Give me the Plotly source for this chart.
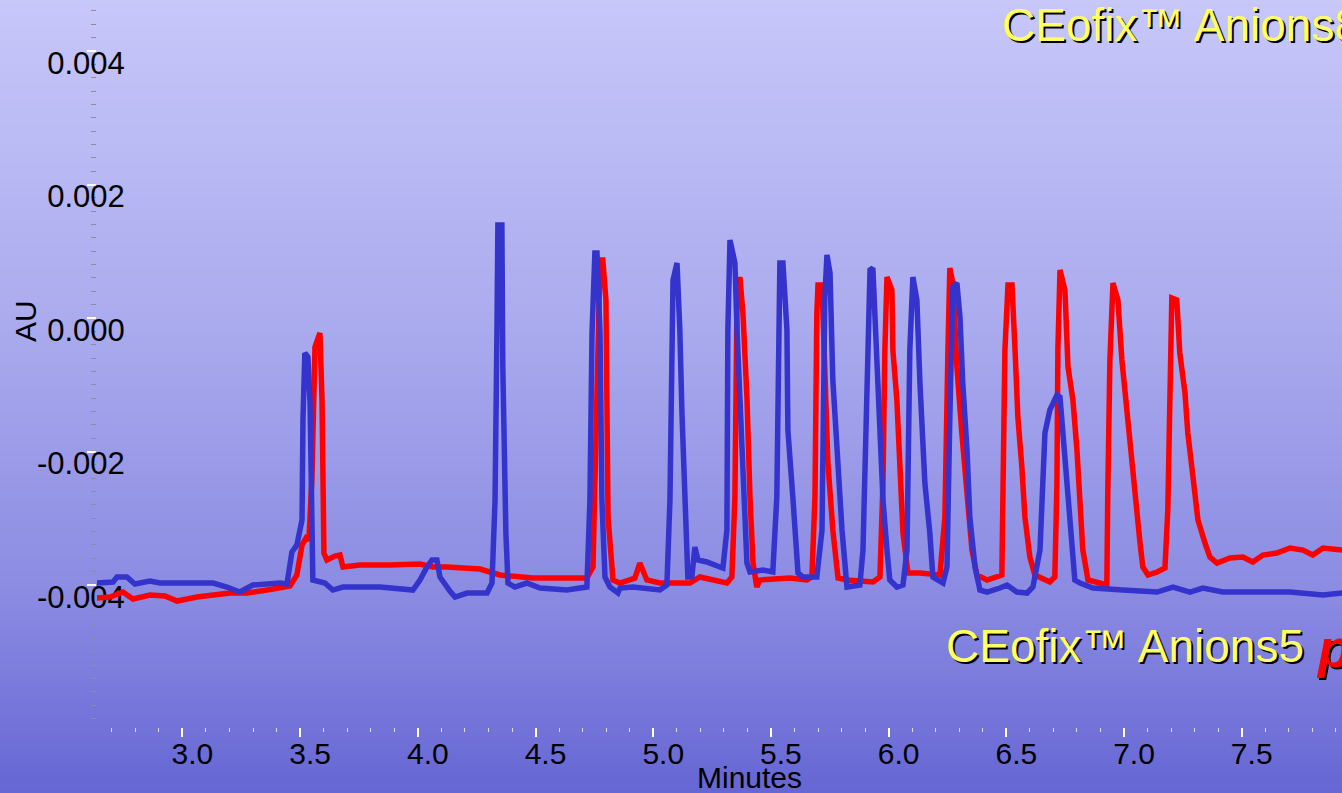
import plotly.graph_objects as go

# ---------------- data (minutes, mAU) ----------------
red_t = [2.628, 2.692, 2.747, 2.790, 2.862, 2.926, 2.977, 3.062, 3.202, 3.274,
         3.359, 3.427, 3.457, 3.486, 3.508, 3.525, 3.537, 3.550, 3.563, 3.584,
         3.593, 3.601, 3.614, 3.648, 3.669, 3.682, 3.754, 3.881, 4.009, 4.064,
         4.124, 4.264, 4.349, 4.489, 4.604, 4.718, 4.744, 4.761, 4.774, 4.786,
         4.799, 4.808, 4.829, 4.859, 4.922, 4.943, 4.973, 5.028, 5.156, 5.198,
         5.313, 5.334, 5.347, 5.356, 5.368, 5.381, 5.398, 5.411, 5.424, 5.440,
         5.453, 5.581, 5.653, 5.674, 5.687, 5.695, 5.700, 5.717, 5.729, 5.742,
         5.763, 5.785, 5.823, 5.933, 5.963, 5.976, 5.984, 5.993, 6.014, 6.018,
         6.035, 6.048, 6.061, 6.082, 6.133, 6.218, 6.239, 6.252, 6.260, 6.273,
         6.290, 6.311, 6.333, 6.354, 6.375, 6.418, 6.481, 6.486, 6.494, 6.507,
         6.524, 6.537, 6.549, 6.566, 6.579, 6.600, 6.621, 6.685, 6.706, 6.715,
         6.719, 6.728, 6.749, 6.762, 6.783, 6.800, 6.813, 6.825, 6.847, 6.898,
         6.927, 6.931, 6.940, 6.953, 6.974, 6.991, 7.004, 7.017, 7.034, 7.055,
         7.068, 7.080, 7.102, 7.140, 7.174, 7.186, 7.195, 7.203, 7.224, 7.237,
         7.259, 7.271, 7.293, 7.314, 7.344, 7.365, 7.395, 7.450, 7.505, 7.547,
         7.590, 7.649, 7.705, 7.760, 7.802, 7.845, 7.926]
red_mau = [-4.195, -4.180, -4.105, -4.210, -4.150, -4.165, -4.240, -4.180, -4.120, -4.120,
           -4.075, -4.045, -4.015, -3.850, -3.401, -3.296, -3.326, -2.427, -0.434, -0.225,
           -1.228, -3.521, -3.625, -3.566, -3.551, -3.730, -3.700, -3.700, -3.685, -3.730,
           -3.730, -3.760, -3.850, -3.895, -3.895, -3.895, -3.730, -1.228, 0.869, 0.869,
           0.270, -2.981, -3.925, -3.970, -3.895, -3.670, -3.925, -3.970, -3.970, -3.880,
           -3.970, -3.880, -2.682, 0.315, 0.614, 0.075, -1.184, -2.682, -3.670, -4.030,
           -3.925, -3.895, -3.925, -3.880, -2.682, 0.075, 0.494, 0.494, -0.674, -2.172,
           -3.176, -3.895, -3.925, -3.955, -3.880, -2.472, -0.479, 0.614, 0.419, -0.479,
           -1.228, -2.232, -3.221, -3.820, -3.820, -3.850, -2.981, -0.479, 0.749, 0.524,
           -0.734, -1.723, -2.727, -3.476, -3.850, -3.925, -3.850, -2.472, -0.479, 0.494,
           0.494, -0.479, -1.483, -2.232, -2.981, -3.581, -3.850, -3.955, -3.880, -2.472,
           -0.479, 0.719, 0.419, -0.734, -1.228, -1.978, -2.727, -3.476, -3.925, -3.970,
           -4.000, -2.622, -0.629, 0.524, 0.270, -0.629, -1.124, -1.633, -2.232, -2.876,
           -3.371, -3.730, -3.850, -3.805, -3.745, -2.876, -0.629, 0.300, 0.270, -0.524,
           -1.124, -1.723, -2.382, -3.026, -3.371, -3.581, -3.670, -3.596, -3.581, -3.655,
           -3.551, -3.521, -3.446, -3.476, -3.551, -3.446, -3.476]

blue_t = [2.628, 2.705, 2.722, 2.764, 2.798, 2.862, 2.904, 3.074, 3.130, 3.189,
          3.244, 3.299, 3.414, 3.444, 3.465, 3.486, 3.508, 3.512, 3.520, 3.533,
          3.542, 3.550, 3.554, 3.605, 3.639, 3.682, 3.839, 3.979, 4.009, 4.039,
          4.060, 4.081, 4.094, 4.136, 4.158, 4.209, 4.294, 4.315, 4.328, 4.336,
          4.340, 4.357, 4.361, 4.374, 4.383, 4.412, 4.463, 4.519, 4.633, 4.718,
          4.731, 4.740, 4.752, 4.761, 4.774, 4.782, 4.795, 4.816, 4.850, 4.859,
          4.914, 5.028, 5.058, 5.071, 5.084, 5.101, 5.113, 5.122, 5.135, 5.147,
          5.164, 5.177, 5.190, 5.228, 5.283, 5.296, 5.313, 5.317, 5.326, 5.347,
          5.356, 5.368, 5.381, 5.398, 5.411, 5.466, 5.508, 5.525, 5.538, 5.551,
          5.568, 5.572, 5.593, 5.615, 5.636, 5.695, 5.717, 5.729, 5.738, 5.751,
          5.763, 5.785, 5.802, 5.823, 5.878, 5.891, 5.908, 5.921, 5.933, 5.950,
          5.963, 5.976, 5.993, 6.005, 6.035, 6.061, 6.078, 6.090, 6.103, 6.120,
          6.133, 6.154, 6.175, 6.188, 6.231, 6.248, 6.260, 6.273, 6.290, 6.303,
          6.315, 6.333, 6.345, 6.367, 6.388, 6.418, 6.473, 6.503, 6.545, 6.588,
          6.613, 6.643, 6.655, 6.664, 6.685, 6.715, 6.728, 6.740, 6.757, 6.770,
          6.791, 6.813, 6.868, 6.995, 7.140, 7.208, 7.280, 7.335, 7.420, 7.564,
          7.705, 7.845, 7.926]
blue_mau = [-3.970, -3.955, -3.880, -3.880, -3.985, -3.940, -3.970, -3.970, -3.970, -4.030,
            -4.105, -4.000, -3.970, -3.985, -3.506, -3.401, -3.026, -1.528, -0.524, -0.584,
            -1.273, -3.026, -3.925, -3.970, -4.075, -4.030, -4.030, -4.075, -3.925, -3.730,
            -3.625, -3.625, -3.880, -4.090, -4.180, -4.120, -4.120, -3.970, -2.727, -0.225,
            1.393, 1.393, -0.734, -3.221, -3.970, -4.030, -3.970, -4.045, -4.075, -4.030,
            -2.727, -0.225, 0.974, 0.974, -0.225, -2.727, -3.880, -4.030, -4.120, -4.045,
            -4.030, -4.075, -4.000, -2.727, 0.569, 0.824, -0.180, -1.423, -2.921, -3.880,
            -3.880, -3.431, -3.625, -3.655, -3.730, -3.745, -3.176, -0.180, 1.169, 0.824,
            -0.180, -1.184, -2.427, -3.670, -3.805, -3.775, -3.805, -2.682, 0.824, 0.824,
            -0.180, -1.678, -2.682, -3.820, -3.880, -3.880, -3.176, 0.315, 0.944, 0.674,
            -0.929, -2.172, -3.176, -4.030, -4.000, -3.476, -1.483, 0.719, 0.749, -0.479,
            -1.483, -2.727, -3.476, -3.925, -4.030, -4.000, -3.476, -0.479, 0.614, 0.270,
            -0.974, -2.472, -3.221, -3.880, -3.970, -3.730, -1.483, 0.464, 0.524, 0.015,
            -0.974, -1.978, -2.981, -3.730, -4.075, -4.105, -4.045, -4.000, -4.105, -4.120,
            -4.030, -3.476, -2.472, -1.723, -1.378, -1.154, -1.184, -1.723, -2.472, -3.221,
            -3.925, -3.970, -4.045, -4.075, -4.105, -4.030, -4.105, -4.045, -4.105, -4.105,
            -4.105, -4.150, -4.120]

x_tick_vals = [3.0, 3.5, 4.0, 4.5, 5.0, 5.5, 6.0, 6.5, 7.0, 7.5]
x_tick_text = ["3.0", "3.5", "4.0", "4.5", "5.0", "5.5", "6.0", "6.5", "7.0", "7.5"]
y_tick_vals = [-0.004, -0.002, 0.0, 0.002, 0.004]
y_tick_text = ["-0.004", "-0.002", "0.000", "0.002", "0.004"]

red_au = [v / 1000.0 for v in red_mau]
blue_au = [v / 1000.0 for v in blue_mau]

# ---------------- layout constants ----------------
W, H = 1342, 793
ML, MB = 97, 66
PW, PH = W - ML, H - MB
FONT = "Liberation Sans, Arial, sans-serif"

fig = go.Figure()
fig.add_trace(go.Scatter(x=red_t, y=red_au, mode="lines",
                         line=dict(color="#ff0000", width=5.5), showlegend=False))
fig.add_trace(go.Scatter(x=blue_t, y=blue_au, mode="lines",
                         line=dict(color="#3434cc", width=5.5), showlegend=False))

# background gradient (bands across the whole figure)
stops = [(0, (199, 199, 250)), (330, (170, 170, 238)), (600, (138, 138, 226)), (793, (102, 102, 212))]


def grad(ypx):
    for (y0, c0), (y1, c1) in zip(stops[:-1], stops[1:]):
        if y0 <= ypx <= y1:
            f = (ypx - y0) / (y1 - y0)
            return tuple(round(a + (b - a) * f) for a, b in zip(c0, c1))
    return stops[-1][1]


shapes = []
NB = 160
for i in range(NB):
    ya = H * i / NB
    yb = H * (i + 1) / NB
    c = grad((ya + yb) / 2)
    shapes.append(dict(type="rect", xref="paper", yref="paper",
                       x0=-ML / PW - 0.01, x1=1.01,
                       y0=(PH - yb) / PH - 0.001, y1=(PH - ya) / PH + 0.001,
                       fillcolor="rgb(%d,%d,%d)" % c, line=dict(width=0), layer="below"))


def px_x(px):
    return (px - ML) / PW


def px_y(py):
    return (PH - py) / PH


anns = [
    dict(text="AU", x=px_x(25), y=px_y(321), textangle=-90,
         font=dict(family=FONT, size=30, color="black")),
    dict(text="Minutes", x=px_x(749), y=px_y(777),
         font=dict(family=FONT, size=30, color="black")),
]
for txt, xx, yy, size, color in [
    ("CEofix™ Anions8", 1000, 25.5, 46, "#ffff66"),
    ("CEofix™ Anions5", 944, 645.5, 46, "#ffff66"),
    ("<b><i>pH 5</i></b>", 1314, 648, 54, "#ff0000"),
]:
    anns.append(dict(text=txt, x=px_x(xx), y=px_y(yy), xanchor="left", xshift=2, yshift=-2,
                     font=dict(family=FONT, size=size, color="black")))
    anns.append(dict(text=txt, x=px_x(xx), y=px_y(yy), xanchor="left",
                     font=dict(family=FONT, size=size, color=color)))
for a in anns:
    a.update(xref="paper", yref="paper", showarrow=False)
    a.setdefault("xanchor", "center")
    a.setdefault("yanchor", "middle")

fig.update_layout(
    width=W, height=H,
    margin=dict(l=ML, r=0, t=0, b=MB, pad=0),
    paper_bgcolor="rgb(150,150,230)",
    plot_bgcolor="rgba(0,0,0,0)",
    shapes=shapes,
    annotations=anns,
    xaxis=dict(range=[2.637, 7.926], showgrid=False, zeroline=False, showline=False,
               tickvals=x_tick_vals, ticktext=x_tick_text,
               ticks="outside", ticklen=9, tickwidth=2, tickcolor="white",
               tickfont=dict(family=FONT, size=30, color="black"),
               ticklabelshift=10, ticklabelstandoff=-9,
               minor=dict(dtick=0.1, tick0=0, ticks="outside", ticklen=4, tickwidth=1,
                          tickcolor="#dadaf6", showgrid=False),
               layer="below traces"),
    yaxis=dict(range=[-0.006127, 0.004764], showgrid=False, zeroline=False, showline=False,
               tickvals=y_tick_vals, ticktext=y_tick_text,
               ticks="outside", ticklen=9, tickwidth=2, tickcolor="white",
               tickfont=dict(family=FONT, size=31, color="black"),
               ticklabelshift=12, ticklabelstandoff=-44,
               minor=dict(dtick=0.0002, tick0=0, ticks="outside", ticklen=5, tickwidth=1,
                          tickcolor="#8c8c9c", showgrid=False),
               layer="below traces"),
)

fig.write_html("out.html")
